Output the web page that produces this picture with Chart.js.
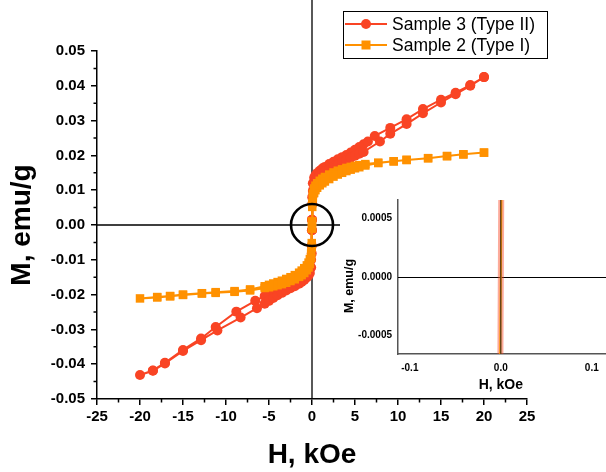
<!DOCTYPE html>
<html><head><meta charset="utf-8">
<script src="https://cdn.jsdelivr.net/npm/chart.js@4.4.0/dist/chart.umd.min.js"></script>
<style>
html,body{margin:0;padding:0;background:#fff;overflow:hidden;width:606px;height:472px;}
#wrap{position:relative;width:606px;height:472px;overflow:hidden;}
#main{position:absolute;left:0;top:0;}
#inset{position:absolute;left:340px;top:188px;background:#fff;}
</style></head><body>
<div id="wrap">
<canvas id="main" width="606" height="472"></canvas>
<canvas id="inset" width="290" height="209"></canvas>
</div>
<script>
// ---------- data ----------
const seriesNames = ['Sample 3 (Type II)', 'Sample 2 (Type I)'];
const xTitle = 'H, kOe';
const yTitle = 'M, emu/g';

// Sample 3 (Type II): field sweep down (+20 -> -20), then up (-20 -> +20)
const H3_down = [20,18.4,16.7,15,12.9,11,9.1,7.3,6.5,6,5.5,5,4.5,4,3.5,3,2.5,2,1.5,1.2,0.9,0.6,0.4,0.25,0.1,0.03,0.001,-0.001,-0.03,-0.1,-0.25,-0.4,-0.6,-0.9,-1.2,-1.5,-2,-2.5,-3,-3.5,-4,-4.5,-5,-5.5,-6.6,-8.8,-11.2,-12.9,-15,-17.1,-18.5,-20];
const M3_down = [0.0425,0.0402,0.0380,0.0360,0.0333,0.0304,0.0279,0.0256,0.0240,0.0232,0.0224,0.0216,0.0208,0.0201,0.0195,0.0189,0.0182,0.0175,0.0167,0.0162,0.0156,0.0149,0.0143,0.0136,0.0120,0.0080,0.0015,-0.0015,-0.0060,-0.0100,-0.0120,-0.0130,-0.0138,-0.0146,-0.0152,-0.0157,-0.0164,-0.0171,-0.0177,-0.0183,-0.0189,-0.0194,-0.0199,-0.0204,-0.0218,-0.0249,-0.0293,-0.0326,-0.0359,-0.0396,-0.0418,-0.0431];
const H3_up = [-18.5,-17.1,-15,-12.9,-11,-8.3,-6.4,-5.5,-5,-4.5,-4,-3.5,-3,-2.5,-2,-1.5,-1.2,-0.9,-0.6,-0.4,-0.25,-0.1,-0.03,-0.001,0.001,0.03,0.1,0.25,0.4,0.6,0.9,1.2,1.5,2,2.5,3,3.5,4,4.5,5,5.5,6,7.9,9.1,11,12.9,15,16.7,18.4,20];
const M3_up = [-0.0419,-0.0398,-0.0362,-0.0331,-0.0303,-0.0266,-0.0239,-0.0226,-0.0218,-0.0210,-0.0202,-0.0195,-0.0188,-0.0182,-0.0176,-0.0169,-0.0164,-0.0158,-0.0151,-0.0145,-0.0138,-0.0122,-0.0082,-0.0015,0.0015,0.0060,0.0098,0.0118,0.0127,0.0135,0.0143,0.0149,0.0154,0.0161,0.0168,0.0174,0.0180,0.0186,0.0193,0.0199,0.0205,0.0210,0.0240,0.0262,0.0290,0.0321,0.0352,0.0376,0.0400,0.0425];

// Sample 2 (Type I)
const H2_down = [20,17.6,15.7,13.5,11,9.5,7.7,6.2,5.5,5,4.5,4,3.5,3,2.5,2,1.5,1.2,0.9,0.6,0.4,0.25,0.1,0.03,0.001,-0.001,-0.03,-0.1,-0.25,-0.4,-0.6,-0.9,-1.2,-1.5,-2,-2.5,-3,-3.5,-4,-4.5,-5,-5.5,-7.2,-9,-11.2,-12.8,-15,-16.5,-18,-20];
const M2_down = [0.0208,0.0203,0.0198,0.0192,0.0187,0.0183,0.0179,0.0175,0.0172,0.0170,0.0167,0.0164,0.0160,0.0156,0.0151,0.0145,0.0138,0.0133,0.0127,0.0120,0.0113,0.0105,0.0090,0.0063,0.0010,-0.0010,-0.0052,-0.0080,-0.0098,-0.0108,-0.0116,-0.0124,-0.0131,-0.0137,-0.0144,-0.0150,-0.0155,-0.0160,-0.0164,-0.0168,-0.0172,-0.0176,-0.0185,-0.0190,-0.0193,-0.0196,-0.0200,-0.0204,-0.0207,-0.0211];
const H2_up = [-18,-16.5,-15,-12.8,-11.2,-9,-7.2,-5.5,-5,-4.5,-4,-3.5,-3,-2.5,-2,-1.5,-1.2,-0.9,-0.6,-0.4,-0.25,-0.1,-0.03,-0.001,0.001,0.03,0.1,0.25,0.4,0.6,0.9,1.2,1.5,2,2.5,3,3.5,4,4.5,5,5.5,6.2,7.7,9.5,11,13.5,15.7,17.6,20];
const M2_up = [-0.0208,-0.0205,-0.0201,-0.0197,-0.0195,-0.0192,-0.0188,-0.0181,-0.0179,-0.0176,-0.0173,-0.0170,-0.0166,-0.0161,-0.0156,-0.0149,-0.0144,-0.0138,-0.0130,-0.0122,-0.0112,-0.0095,-0.0065,-0.0010,0.0010,0.0052,0.0078,0.0092,0.0100,0.0107,0.0114,0.0120,0.0125,0.0132,0.0139,0.0145,0.0150,0.0155,0.0159,0.0163,0.0166,0.0171,0.0178,0.0183,0.0187,0.0192,0.0198,0.0203,0.0208];

// axis ranges / ticks
const xMin = -25, xMax = 25, xStep = 5;
const yMin = -0.05, yMax = 0.05, yStep = 0.01;
const insetXMin = -0.113, insetXMax = 0.12, insetXStep = 0.1;
const insetYMin = -0.00066, insetYMax = 0.00066, insetYStep = 0.0005;

// ---------- helpers ----------
const RED = '#F94424';
const ORANGE = '#FF9100';
const F = '"Liberation Sans", Arial, Helvetica, sans-serif';
function pts(H, M){ return H.map((h,i)=>({x:h, y:M[i]})); }
const data3 = pts(H3_down, M3_down).concat(pts(H3_up, M3_up));
const data2 = pts(H2_down, M2_down).concat(pts(H2_up, M2_up));
function fmt(v, d){ if (Math.abs(v) < 1e-12) v = 0; return v.toFixed(d); }

const mainDecor = {
  id: 'mainDecor',
  beforeDatasetsDraw(chart){
    const {ctx, chartArea:a} = chart; const x = chart.scales.x, y = chart.scales.y;
    const x0 = x.getPixelForValue(0), y0 = y.getPixelForValue(0);
    ctx.save();
    ctx.strokeStyle = '#000'; ctx.lineWidth = 1.3;
    ctx.beginPath();
    ctx.moveTo(a.left, y0); ctx.lineTo(chart.width, y0);
    ctx.moveTo(x0, 0); ctx.lineTo(x0, a.bottom);
    ctx.stroke();
    // minor ticks
    ctx.lineWidth = 1.5; ctx.beginPath();
    for (let v = xMin + xStep/2; v < xMax; v += xStep){ const p = x.getPixelForValue(v); ctx.moveTo(p, a.bottom); ctx.lineTo(p, a.bottom + 3.5); }
    for (let v = yMin + yStep/2; v < yMax; v += yStep){ const p = y.getPixelForValue(v); ctx.moveTo(a.left, p); ctx.lineTo(a.left - 3.5, p); }
    ctx.stroke();
    ctx.restore();
  },
  afterDatasetsDraw(chart){
    const {ctx} = chart; const x = chart.scales.x, y = chart.scales.y;
    ctx.save();
    ctx.strokeStyle = '#000'; ctx.lineWidth = 2.6;
    ctx.beginPath(); ctx.arc(x.getPixelForValue(0), y.getPixelForValue(0), 21, 0, Math.PI*2); ctx.stroke();
    ctx.restore();
  },
  afterDraw(chart){
    const {ctx, chartArea:a} = chart;
    ctx.save();
    // axis titles
    ctx.fillStyle = '#000';
    ctx.font = 'bold 28px ' + F;
    ctx.textAlign = 'center'; ctx.textBaseline = 'middle';
    ctx.fillText(xTitle, (a.left + a.right)/2, 455);
    ctx.save(); ctx.translate(22, (a.top + a.bottom)/2); ctx.rotate(-Math.PI/2); ctx.fillText(yTitle, 0, 0); ctx.restore();
    // legend
    ctx.fillStyle = '#fff'; ctx.fillRect(343, 11, 204, 47);
    ctx.strokeStyle = '#000'; ctx.lineWidth = 1; ctx.strokeRect(343.5, 11.5, 204, 47);
    const rows = [24, 45];
    chart.data.datasets.forEach((ds, i) => {
      const yy = rows[i];
      ctx.strokeStyle = ds.borderColor; ctx.lineWidth = 2.2;
      ctx.beginPath(); ctx.moveTo(345, yy); ctx.lineTo(387, yy); ctx.stroke();
      ctx.fillStyle = ds.backgroundColor;
      if (ds.pointStyle === 'circle'){ ctx.beginPath(); ctx.arc(366, yy, 5, 0, Math.PI*2); ctx.fill(); }
      else { ctx.fillRect(361.5, yy - 4.5, 9, 9); }
      ctx.fillStyle = '#000'; ctx.font = '17.5px ' + F; ctx.textAlign = 'left'; ctx.textBaseline = 'middle';
      ctx.fillText(ds.label, 392, yy + 1);
    });
    ctx.restore();
  }
};

new Chart(document.getElementById('main'), {
  type: 'scatter',
  data: { datasets: [
    { label: seriesNames[0], data: data3, showLine: true, borderColor: RED, backgroundColor: RED, borderWidth: 2,
      pointStyle: 'circle', pointRadius: 5, pointBorderWidth: 0, order: 1 },
    { label: seriesNames[1], data: data2, showLine: true, borderColor: ORANGE, backgroundColor: ORANGE, borderWidth: 2,
      pointStyle: 'rect', pointRadius: 6, pointBorderWidth: 0, order: 0 }
  ]},
  options: {
    responsive: false, animation: false, events: [],
    layout: { padding: { left: 0, right: 79, top: 51, bottom: 0 } },
    plugins: { legend: { display: false }, tooltip: { enabled: false } },
    scales: {
      x: { type: 'linear', min: xMin, max: xMax,
        afterFit(s){ s.height = 73; },
        grid: { display: true, drawOnChartArea: false, drawTicks: true, tickLength: 6, color: '#000', lineWidth: 1.5 },
        border: { display: true, color: '#000', width: 1.5 },
        ticks: { stepSize: xStep, padding: 3, color: '#000', font: { family: F, size: 15, weight: 'bold' }, callback: v => fmt(v, 0), maxRotation: 0 } },
      y: { type: 'linear', min: yMin, max: yMax,
        afterFit(s){ s.width = 97; },
        grid: { display: true, drawOnChartArea: false, drawTicks: true, tickLength: 6, color: '#000', lineWidth: 1.5 },
        border: { display: true, color: '#000', width: 1.5 },
        ticks: { stepSize: yStep, padding: 6, color: '#000', font: { family: F, size: 15, weight: 'bold' }, callback: v => fmt(v, 2) } }
    }
  },
  plugins: [mainDecor]
});

// ---------- inset ----------
const insetDecor = {
  id: 'insetDecor',
  beforeDatasetsDraw(chart){
    const {ctx, chartArea:a} = chart; const y = chart.scales.y;
    ctx.save(); ctx.strokeStyle = '#000'; ctx.lineWidth = 1;
    const y0 = Math.round(y.getPixelForValue(0)) + 0.5;
    ctx.beginPath(); ctx.moveTo(a.left, y0); ctx.lineTo(chart.width, y0); ctx.stroke();
    ctx.restore();
  },
  afterDatasetsDraw(chart){
    const {ctx, chartArea:a} = chart; const x = chart.scales.x;
    const x0 = x.getPixelForValue(0);
    ctx.save(); ctx.strokeStyle = '#222'; ctx.lineWidth = 1;
    ctx.beginPath(); ctx.moveTo(x0, a.top); ctx.lineTo(x0, a.bottom); ctx.stroke();
    ctx.restore();
  },
  afterDraw(chart){
    const {ctx} = chart;
    ctx.save(); ctx.fillStyle = '#000'; ctx.textAlign = 'center'; ctx.textBaseline = 'middle';
    ctx.font = 'bold 14px ' + F;
    ctx.fillText(xTitle, chart.scales.x.getPixelForValue(0), 197);
    ctx.font = 'bold 12.5px ' + F; ctx.textBaseline = 'alphabetic';
    ctx.save(); ctx.translate(13, 98); ctx.rotate(-Math.PI/2); ctx.fillText(yTitle, 0, 0); ctx.restore();
    ctx.restore();
  }
};

new Chart(document.getElementById('inset'), {
  type: 'scatter',
  data: { datasets: [
    { label: seriesNames[0], data: data3, showLine: true, borderColor: 'rgba(249,68,36,0.45)', borderWidth: 6, pointRadius: 0, order: 1 },
    { label: seriesNames[1], data: data2, showLine: true, borderColor: ORANGE, borderWidth: 2, pointRadius: 0, order: 0 }
  ]},
  options: {
    responsive: false, animation: false, events: [],
    layout: { padding: { left: 0, right: 20, top: 9, bottom: 0 } },
    plugins: { legend: { display: false }, tooltip: { enabled: false } },
    scales: {
      x: { type: 'linear', min: insetXMin, max: insetXMax,
        afterFit(s){ s.height = 43; },
        grid: { display: false, drawTicks: false },
        border: { display: true, color: '#555', width: 1.5 },
        ticks: { stepSize: insetXStep, includeBounds: false, padding: 8, color: '#000', font: { family: F, size: 10, weight: 'bold' }, callback: v => fmt(v, 1), maxRotation: 0 } },
      y: { type: 'linear', min: insetYMin, max: insetYMax,
        afterFit(s){ s.width = 58; },
        grid: { display: false, drawTicks: false },
        border: { display: true, color: '#555', width: 1.5 },
        ticks: { stepSize: insetYStep, includeBounds: false, padding: 6, color: '#000', font: { family: F, size: 10, weight: 'bold' }, callback: v => fmt(v, 4) } }
    }
  },
  plugins: [insetDecor]
});
</script>
</body></html>
